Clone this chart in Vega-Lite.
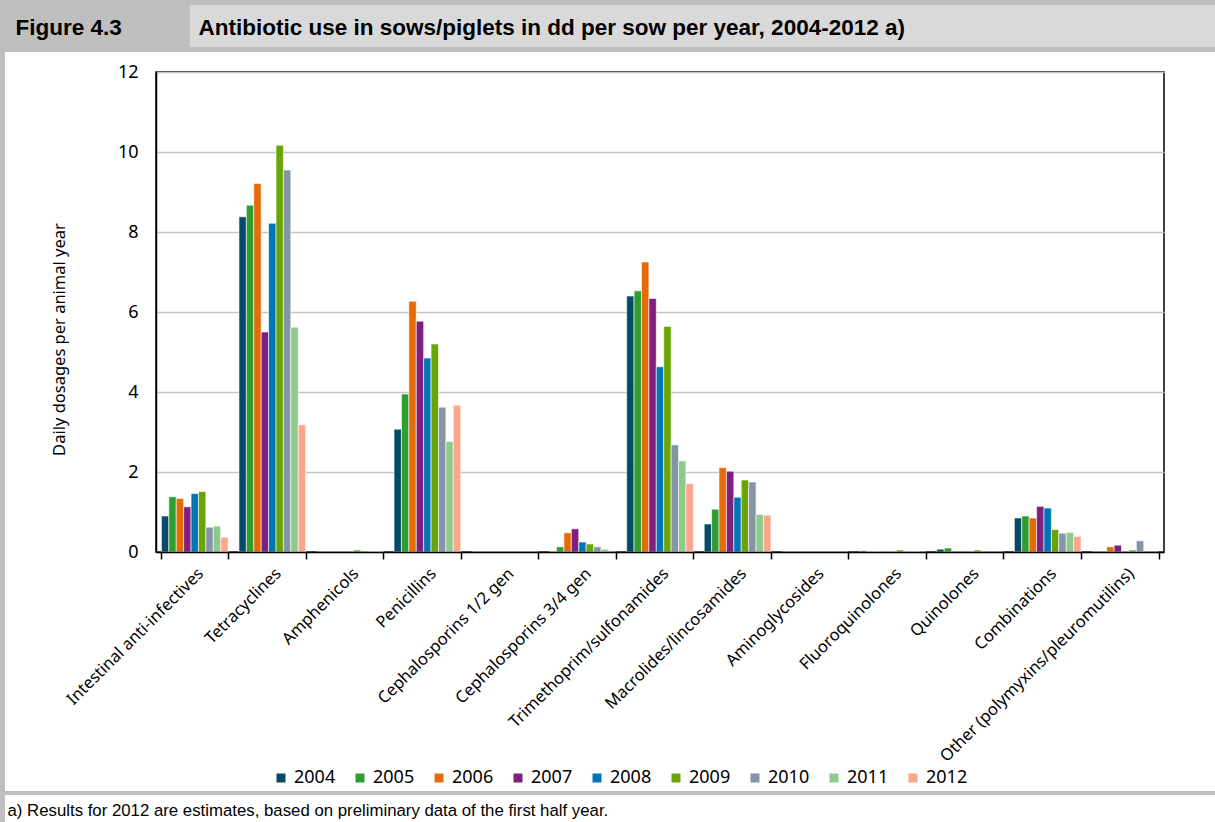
{
  "$schema": "https://vega.github.io/schema/vega-lite/v6.json",
  "padding": 0,
  "background": "white",
  "spacing": 0,
  "config": {
    "view": {"stroke": null},
    "concat": {"spacing": 0},
    "font": "Noto Sans"
  },
  "hconcat": [
    {"width": 5, "height": 822, "view": {"fill": "#bfbfbf", "stroke": null}, "data": {"values": []}, "mark": "rect", "encoding": {}},
    {
      "spacing": 0,
      "vconcat": [
        {
          "spacing": 0,
          "hconcat": [
            {
              "width": 185, "height": 52,
              "view": {"fill": "#bfbfbf", "stroke": null},
              "data": {"values": [{"v": 0.5}]},
              "mark": {"type": "point", "opacity": 0},
              "encoding": {
                "x": {"field": "v", "type": "quantitative", "scale": {"domain": [0, 1]},
                  "axis": {"orient": "top", "title": "Figure 4.3", "labels": false, "ticks": false, "domain": false, "grid": false, "titleX": 10, "titleY": 34, "titleAngle": 0, "titleAlign": "left", "titleBaseline": "alphabetic", "titleFont": "Liberation Sans", "titleFontSize": 22.5, "titleFontWeight": "bold", "titleColor": "black"}}
              }
            },
            {
              "spacing": 0,
              "vconcat": [
                {"width": 1025, "height": 5, "view": {"fill": "#bfbfbf", "stroke": null}, "data": {"values": []}, "mark": "rect", "encoding": {}},
                {
                  "width": 1025, "height": 42,
                  "view": {"fill": "#d9d9d9", "stroke": null},
                  "data": {"values": [{"v": 0.5}]},
                  "mark": {"type": "point", "opacity": 0},
                  "encoding": {
                    "x": {"field": "v", "type": "quantitative", "scale": {"domain": [0, 1]},
                      "axis": {"orient": "top", "title": "Antibiotic use in sows/piglets in dd per sow per year, 2004-2012 a)", "labels": false, "ticks": false, "domain": false, "grid": false, "titleX": 8, "titleY": 29, "titleAngle": 0, "titleAlign": "left", "titleBaseline": "alphabetic", "titleFont": "Liberation Sans", "titleFontSize": 22.5, "titleFontWeight": "bold", "titleColor": "black", "titleLimit": 1000}}
                  }
                },
                {"width": 1025, "height": 5, "view": {"fill": "#bfbfbf", "stroke": null}, "data": {"values": []}, "mark": "rect", "encoding": {}}
              ]
            }
          ]
        },
        {"width": 1210, "height": 10, "view": {"stroke": null}, "data": {"values": []}, "mark": "rect", "encoding": {}},
        {
          "spacing": 0,
          "hconcat": [
            {"width": 1, "height": 1, "view": {"stroke": null}, "data": {"values": []}, "mark": "rect", "encoding": {}},
            {
              "width": 1008, "height": 480,
              "view": {"stroke": "black", "strokeWidth": 1.5},
              "data": {"values": [
                {"class": "Intestinal anti-infectives", "year": "2004", "dd": 0.90},
                {"class": "Intestinal anti-infectives", "year": "2005", "dd": 1.38},
                {"class": "Intestinal anti-infectives", "year": "2006", "dd": 1.34},
                {"class": "Intestinal anti-infectives", "year": "2007", "dd": 1.13},
                {"class": "Intestinal anti-infectives", "year": "2008", "dd": 1.46},
                {"class": "Intestinal anti-infectives", "year": "2009", "dd": 1.51},
                {"class": "Intestinal anti-infectives", "year": "2010", "dd": 0.62},
                {"class": "Intestinal anti-infectives", "year": "2011", "dd": 0.65},
                {"class": "Intestinal anti-infectives", "year": "2012", "dd": 0.37},
                {"class": "Tetracyclines", "year": "2004", "dd": 8.38},
                {"class": "Tetracyclines", "year": "2005", "dd": 8.67},
                {"class": "Tetracyclines", "year": "2006", "dd": 9.21},
                {"class": "Tetracyclines", "year": "2007", "dd": 5.50},
                {"class": "Tetracyclines", "year": "2008", "dd": 8.22},
                {"class": "Tetracyclines", "year": "2009", "dd": 10.17},
                {"class": "Tetracyclines", "year": "2010", "dd": 9.55},
                {"class": "Tetracyclines", "year": "2011", "dd": 5.62},
                {"class": "Tetracyclines", "year": "2012", "dd": 3.18},
                {"class": "Amphenicols", "year": "2004", "dd": 0},
                {"class": "Amphenicols", "year": "2005", "dd": 0},
                {"class": "Amphenicols", "year": "2006", "dd": 0},
                {"class": "Amphenicols", "year": "2007", "dd": 0},
                {"class": "Amphenicols", "year": "2008", "dd": 0},
                {"class": "Amphenicols", "year": "2009", "dd": 0.05},
                {"class": "Amphenicols", "year": "2010", "dd": 0},
                {"class": "Amphenicols", "year": "2011", "dd": 0.02},
                {"class": "Amphenicols", "year": "2012", "dd": 0.02},
                {"class": "Penicillins", "year": "2004", "dd": 3.07},
                {"class": "Penicillins", "year": "2005", "dd": 3.95},
                {"class": "Penicillins", "year": "2006", "dd": 6.27},
                {"class": "Penicillins", "year": "2007", "dd": 5.77},
                {"class": "Penicillins", "year": "2008", "dd": 4.85},
                {"class": "Penicillins", "year": "2009", "dd": 5.20},
                {"class": "Penicillins", "year": "2010", "dd": 3.62},
                {"class": "Penicillins", "year": "2011", "dd": 2.76},
                {"class": "Penicillins", "year": "2012", "dd": 3.67},
                {"class": "Cephalosporins 1/2 gen", "year": "2004", "dd": 0},
                {"class": "Cephalosporins 1/2 gen", "year": "2005", "dd": 0},
                {"class": "Cephalosporins 1/2 gen", "year": "2006", "dd": 0},
                {"class": "Cephalosporins 1/2 gen", "year": "2007", "dd": 0},
                {"class": "Cephalosporins 1/2 gen", "year": "2008", "dd": 0},
                {"class": "Cephalosporins 1/2 gen", "year": "2009", "dd": 0},
                {"class": "Cephalosporins 1/2 gen", "year": "2010", "dd": 0},
                {"class": "Cephalosporins 1/2 gen", "year": "2011", "dd": 0},
                {"class": "Cephalosporins 1/2 gen", "year": "2012", "dd": 0},
                {"class": "Cephalosporins 3/4 gen", "year": "2004", "dd": 0.01},
                {"class": "Cephalosporins 3/4 gen", "year": "2005", "dd": 0.13},
                {"class": "Cephalosporins 3/4 gen", "year": "2006", "dd": 0.48},
                {"class": "Cephalosporins 3/4 gen", "year": "2007", "dd": 0.58},
                {"class": "Cephalosporins 3/4 gen", "year": "2008", "dd": 0.25},
                {"class": "Cephalosporins 3/4 gen", "year": "2009", "dd": 0.20},
                {"class": "Cephalosporins 3/4 gen", "year": "2010", "dd": 0.13},
                {"class": "Cephalosporins 3/4 gen", "year": "2011", "dd": 0.07},
                {"class": "Cephalosporins 3/4 gen", "year": "2012", "dd": 0},
                {"class": "Trimethoprim/sulfonamides", "year": "2004", "dd": 6.40},
                {"class": "Trimethoprim/sulfonamides", "year": "2005", "dd": 6.53},
                {"class": "Trimethoprim/sulfonamides", "year": "2006", "dd": 7.25},
                {"class": "Trimethoprim/sulfonamides", "year": "2007", "dd": 6.34},
                {"class": "Trimethoprim/sulfonamides", "year": "2008", "dd": 4.63},
                {"class": "Trimethoprim/sulfonamides", "year": "2009", "dd": 5.64},
                {"class": "Trimethoprim/sulfonamides", "year": "2010", "dd": 2.68},
                {"class": "Trimethoprim/sulfonamides", "year": "2011", "dd": 2.28},
                {"class": "Trimethoprim/sulfonamides", "year": "2012", "dd": 1.71},
                {"class": "Macrolides/lincosamides", "year": "2004", "dd": 0.70},
                {"class": "Macrolides/lincosamides", "year": "2005", "dd": 1.07},
                {"class": "Macrolides/lincosamides", "year": "2006", "dd": 2.11},
                {"class": "Macrolides/lincosamides", "year": "2007", "dd": 2.02},
                {"class": "Macrolides/lincosamides", "year": "2008", "dd": 1.37},
                {"class": "Macrolides/lincosamides", "year": "2009", "dd": 1.80},
                {"class": "Macrolides/lincosamides", "year": "2010", "dd": 1.75},
                {"class": "Macrolides/lincosamides", "year": "2011", "dd": 0.94},
                {"class": "Macrolides/lincosamides", "year": "2012", "dd": 0.92},
                {"class": "Aminoglycosides", "year": "2004", "dd": 0},
                {"class": "Aminoglycosides", "year": "2005", "dd": 0},
                {"class": "Aminoglycosides", "year": "2006", "dd": 0},
                {"class": "Aminoglycosides", "year": "2007", "dd": 0},
                {"class": "Aminoglycosides", "year": "2008", "dd": 0},
                {"class": "Aminoglycosides", "year": "2009", "dd": 0},
                {"class": "Aminoglycosides", "year": "2010", "dd": 0},
                {"class": "Aminoglycosides", "year": "2011", "dd": 0},
                {"class": "Aminoglycosides", "year": "2012", "dd": 0},
                {"class": "Fluoroquinolones", "year": "2004", "dd": 0.03},
                {"class": "Fluoroquinolones", "year": "2005", "dd": 0.01},
                {"class": "Fluoroquinolones", "year": "2006", "dd": 0.01},
                {"class": "Fluoroquinolones", "year": "2007", "dd": 0.01},
                {"class": "Fluoroquinolones", "year": "2008", "dd": 0.01},
                {"class": "Fluoroquinolones", "year": "2009", "dd": 0.05},
                {"class": "Fluoroquinolones", "year": "2010", "dd": 0.02},
                {"class": "Fluoroquinolones", "year": "2011", "dd": 0.02},
                {"class": "Fluoroquinolones", "year": "2012", "dd": 0},
                {"class": "Quinolones", "year": "2004", "dd": 0.07},
                {"class": "Quinolones", "year": "2005", "dd": 0.10},
                {"class": "Quinolones", "year": "2006", "dd": 0},
                {"class": "Quinolones", "year": "2007", "dd": 0},
                {"class": "Quinolones", "year": "2008", "dd": 0.02},
                {"class": "Quinolones", "year": "2009", "dd": 0.05},
                {"class": "Quinolones", "year": "2010", "dd": 0},
                {"class": "Quinolones", "year": "2011", "dd": 0},
                {"class": "Quinolones", "year": "2012", "dd": 0},
                {"class": "Combinations", "year": "2004", "dd": 0.85},
                {"class": "Combinations", "year": "2005", "dd": 0.90},
                {"class": "Combinations", "year": "2006", "dd": 0.85},
                {"class": "Combinations", "year": "2007", "dd": 1.14},
                {"class": "Combinations", "year": "2008", "dd": 1.10},
                {"class": "Combinations", "year": "2009", "dd": 0.56},
                {"class": "Combinations", "year": "2010", "dd": 0.47},
                {"class": "Combinations", "year": "2011", "dd": 0.49},
                {"class": "Combinations", "year": "2012", "dd": 0.39},
                {"class": "Other (polymyxins/pleuromutilins)", "year": "2004", "dd": 0},
                {"class": "Other (polymyxins/pleuromutilins)", "year": "2005", "dd": 0},
                {"class": "Other (polymyxins/pleuromutilins)", "year": "2006", "dd": 0.13},
                {"class": "Other (polymyxins/pleuromutilins)", "year": "2007", "dd": 0.17},
                {"class": "Other (polymyxins/pleuromutilins)", "year": "2008", "dd": 0.02},
                {"class": "Other (polymyxins/pleuromutilins)", "year": "2009", "dd": 0.05},
                {"class": "Other (polymyxins/pleuromutilins)", "year": "2010", "dd": 0.28},
                {"class": "Other (polymyxins/pleuromutilins)", "year": "2011", "dd": 0},
                {"class": "Other (polymyxins/pleuromutilins)", "year": "2012", "dd": 0}
              ]},
              "mark": {"type": "bar", "stroke": "white", "strokeWidth": 0.6},
              "encoding": {
                "x": {
                  "field": "class", "type": "nominal",
                  "sort": ["Intestinal anti-infectives", "Tetracyclines", "Amphenicols", "Penicillins", "Cephalosporins 1/2 gen", "Cephalosporins 3/4 gen", "Trimethoprim/sulfonamides", "Macrolides/lincosamides", "Aminoglycosides", "Fluoroquinolones", "Quinolones", "Combinations", "Other (polymyxins/pleuromutilins)"],
                  "scale": {"paddingInner": 0.14, "paddingOuter": 0.07},
                  "axis": {"title": null, "labelAngle": -45, "labelFontSize": 16.5, "labelColor": "black", "labelLimit": 400, "labelPadding": 6, "domainColor": "black", "domainWidth": 1.5, "tickBand": "extent", "tickColor": "black", "tickSize": 7, "tickWidth": 1.5, "grid": false, "zindex": 1}
                },
                "xOffset": {"field": "year", "type": "nominal", "scale": {"paddingInner": 0, "paddingOuter": 0}},
                "y": {
                  "field": "dd", "type": "quantitative",
                  "scale": {"domain": [0, 12], "nice": false},
                  "axis": {"title": "Daily dosages per animal year", "titleFontSize": 16.5, "titleFontWeight": "normal", "titleColor": "black", "titleX": -97, "titleY": 267, "titleAlign": "center", "titleBaseline": "middle", "titleAngle": -90, "values": [0, 2, 4, 6, 8, 10, 12], "ticks": false, "labelPadding": 18, "labelFontSize": 18, "labelColor": "black", "domainColor": "black", "domainWidth": 1.5, "gridColor": "#c4c4c4", "gridWidth": 1.5, "minExtent": 149, "maxExtent": 149}
                },
                "color": {
                  "field": "year", "type": "nominal",
                  "scale": {"domain": ["2004", "2005", "2006", "2007", "2008", "2009", "2010", "2011", "2012"], "range": ["#064a69", "#2e9e2e", "#e36c09", "#7f1f7f", "#0075b6", "#6aa507", "#8695a5", "#8fca8d", "#ffa58a"]},
                  "legend": {"title": null, "orient": "none", "legendX": 268, "legendY": 765, "padding": 4, "direction": "horizontal", "symbolType": "square", "symbolSize": 81, "symbolStrokeWidth": 0, "labelFontSize": 18, "labelColor": "black", "columnPadding": 15, "labelOffset": 4}
                }
              }
            }
          ]
        },
        {"width": 1210, "height": 25, "view": {"stroke": null}, "data": {"values": []}, "mark": "rect", "encoding": {}},
        {"width": 1210, "height": 4, "view": {"fill": "#bfbfbf", "stroke": null}, "data": {"values": []}, "mark": "rect", "encoding": {}},
        {
          "width": 1210, "height": 28,
          "view": {"stroke": null},
          "data": {"values": [{"v": 0.5}]},
          "mark": {"type": "point", "opacity": 0},
          "encoding": {
            "x": {"field": "v", "type": "quantitative", "scale": {"domain": [0, 1]},
              "axis": {"orient": "top", "title": "a) Results for 2012 are estimates, based on preliminary data of the first half year.", "labels": false, "ticks": false, "domain": false, "grid": false, "titleX": 2, "titleY": 20, "titleAngle": 0, "titleAlign": "left", "titleBaseline": "alphabetic", "titleFont": "Liberation Sans", "titleFontSize": 16.8, "titleFontWeight": "normal", "titleColor": "black", "titleLimit": 1200}}
          }
        }
      ]
    }
  ]
}
